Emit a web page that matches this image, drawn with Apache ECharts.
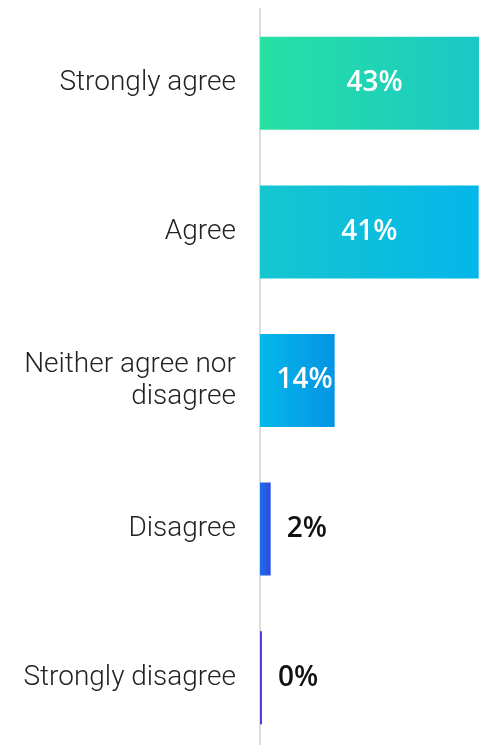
<!DOCTYPE html>
<html>
<head>
<meta charset="utf-8">
<script src="https://cdn.jsdelivr.net/npm/echarts@6/dist/echarts.min.js"></script>
<style>html,body{margin:0;padding:0;background:#fff;}#c{width:479px;height:745px;}</style>
</head>
<body>
<div id="c"></div>
<script>
var categories = ['Strongly agree', 'Agree', 'Neither agree nor\ndisagree', 'Disagree', 'Strongly disagree'];
var values = [43, 41, 14, 2, 0];
var gradientStops = [
  ['#27e0a2', '#19c7c8'],
  ['#16c6cf', '#04b6ea'],
  ['#04b8ea', '#0594e4'],
  ['#1a6fe8', '#2c4be2'],
  ['#5a3be4', '#5a3be4']
];

var chart = echarts.init(document.getElementById('c'));
var data = values.map(function (v, i) {
  var inside = v >= 10;
  var pos = i < 2 ? 'inside' : (inside ? 'insideRight' : 'right');
  return {
    value: v,
    itemStyle: {
      color: new echarts.graphic.LinearGradient(0, 0, 1, 0, [
        { offset: 0, color: gradientStops[i][0] },
        { offset: 1, color: gradientStops[i][1] }
      ])
    },
    label: {
      position: pos,
      distance: inside ? 2 : 16,
      color: inside ? '#ffffff' : '#111111'
    }
  };
});

chart.setOption({
  animation: false,
  grid: { left: 260, width: 240, top: 9, height: 743, outerBoundsMode: 'none', containLabel: false },
  xAxis: { type: 'value', min: 0, max: 45, show: false },
  yAxis: {
    type: 'category',
    inverse: true,
    data: categories,
    axisLine: { show: true, lineStyle: { color: '#dcdcdc', width: 2 } },
    axisTick: { show: false },
    axisLabel: {
      margin: 24,
      color: '#222222',
      fontFamily: 'Roboto',
      fontWeight: 300,
      fontSize: 28,
      lineHeight: 32,
      align: 'right'
    }
  },
  series: [{
    type: 'bar',
    data: data,
    barWidth: 93,
    barMinHeight: 2,
    clip: false,
    label: {
      show: true,
      fontFamily: 'Open Sans',
      fontWeight: 600,
      fontSize: 28,
      formatter: '{c}%'
    }
  }]
});
</script>
</body>
</html>
